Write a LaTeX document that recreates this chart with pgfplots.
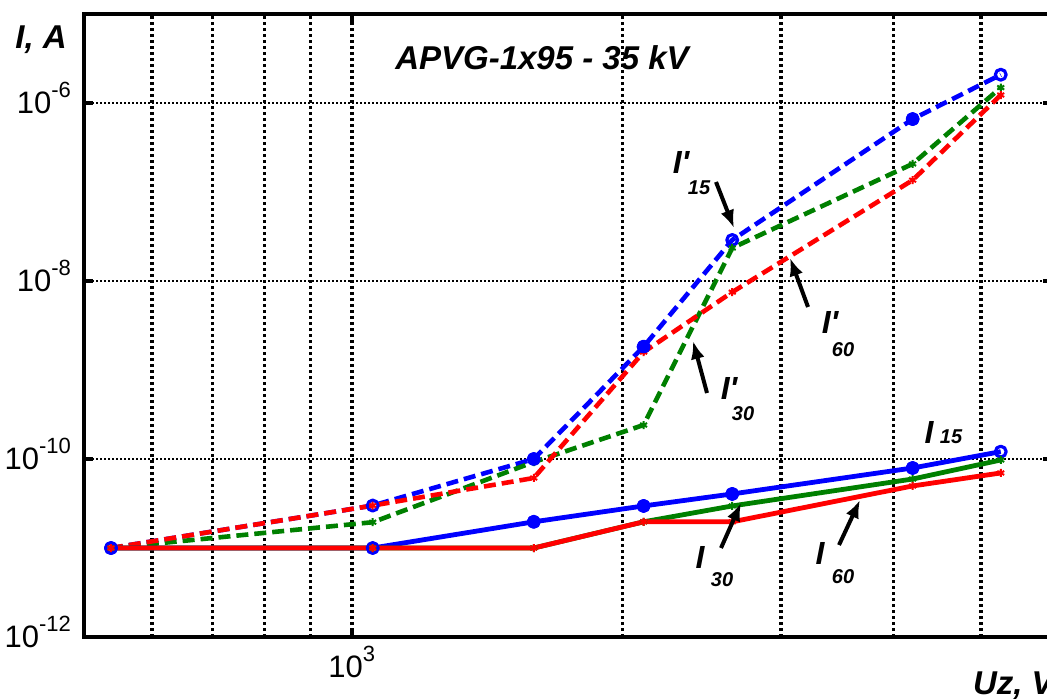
\documentclass[border=0pt]{standalone}
\usepackage{pgfplots}
\pgfplotsset{compat=1.18}
\usepackage{pgfplotstable}
\usepackage{fontspec}
\setmainfont{Liberation Sans}
\usetikzlibrary{arrows.meta}
\definecolor{mblue}{RGB}{0,0,255}
\definecolor{mgreen}{RGB}{0,128,0}
\definecolor{mred}{RGB}{255,0,0}

\pgfplotstableread{
x y
540 1e-11
1055 1e-11
1593 1.97e-11
2110 2.97e-11
2647 4.05e-11
4200 7.93e-11
5262 1.21e-10
}\Ia
\pgfplotstableread{
x y
540 1e-11
1055 1e-11
1593 1e-11
2110 1.97e-11
2647 2.97e-11
4200 5.96e-11
5262 9.75e-11
}\Ib
\pgfplotstableread{
x y
540 1e-11
1055 1e-11
1593 1e-11
2110 1.97e-11
2647 1.97e-11
4200 4.98e-11
5262 6.97e-11
}\Ic
\pgfplotstableread{
x y
540 1e-11
1055 3e-11
1593 1e-10
2110 1.83e-9
2647 2.89e-8
4200 6.6e-7
5262 2.08e-6
}\Pa
\pgfplotstableread{
x y
540 1e-11
1055 1.95e-11
1593 9.25e-11
2110 2.41e-10
2647 2.35e-8
4200 2.07e-7
5262 1.49e-6
}\Pb
\pgfplotstableread{
x y
540 1e-11
1055 3e-11
1593 6.12e-11
2110 1.59e-9
2647 7.5e-9
4200 1.36e-7
5262 1.23e-6
}\Pc

\newcommand{\tl}[1]{{\fontsize{15.5}{16}\selectfont 10\smash{\raisebox{8pt}{\fontsize{11}{11}\selectfont #1}}}}
\newcommand{\bi}{\bfseries\itshape}
\newcommand{\pr}{\textquotesingle}

\begin{document}
\begin{tikzpicture}
\path[use as bounding box] (0pt,0pt) rectangle (523.5pt,-349.5pt);
\begin{axis}[
  at={(42pt,-318.5pt)}, anchor=south west,
  width=484pt, height=311.5pt, scale only axis,
  xmode=log, ymode=log,
  xmin=504, xmax=6000, ymin=1e-12, ymax=1e-5,
  xtick={1000}, xticklabels={\tl{3}},
  minor xtick={600,700,800,900,2000,3000,4000,5000},
  ytick={1e-12,1e-10,1e-8,1e-6},
  yticklabels={\tl{-12},\tl{-10},\tl{-8},\tl{-6}},
  minor ytick={1e-11},
  xmajorgrids, xminorgrids, ymajorgrids, yminorgrids=false,
  major x grid style={black, line width=1.7pt, dash pattern=on 1.6pt off 1.4pt},
  minor x grid style={black, line width=1.7pt, dash pattern=on 1.6pt off 1.4pt},
  major y grid style={black, line width=0.8pt, dash pattern=on 0.8pt off 1.2pt},
  axis line style={line width=2.2pt},
  tick align=inside, major tick length=4.5pt, minor tick length=0pt,
  every tick/.style={black, line width=2.2pt},
  yticklabel style={xshift=-3pt},
  xticklabel style={yshift=-6pt},
  clip=true,
]
\addplot[mblue, line width=2.3pt, dash pattern=on 6pt off 3pt, line join=round,
  mark=o, mark size=2.7pt, mark options={solid, line width=1.6pt, fill=white}] table {\Pa};
\addplot[mgreen, line width=2.3pt, dash pattern=on 6pt off 3pt, line join=round,
  mark=asterisk, mark size=2pt, mark options={solid, line width=1pt}] table {\Pb};
\addplot[mred, line width=2.3pt, dash pattern=on 6pt off 3pt, line join=round,
  mark=asterisk, mark size=2pt, mark options={solid, line width=1pt}] table {\Pc};
\addplot[mblue, only marks, mark=*, mark size=3.1pt] coordinates {(1593,1e-10) (2110,1.83e-9) (4200,6.6e-7)};
\addplot[mblue, line width=2.4pt, line join=round,
  mark=o, mark size=2.7pt, mark options={line width=1.6pt, fill=white}] table {\Ia};
\addplot[mblue, only marks, mark=*, mark size=3.1pt] coordinates {(1593,1.97e-11) (2110,2.97e-11) (2647,4.05e-11) (4200,7.93e-11)};
\addplot[mgreen, line width=2.4pt, line join=round,
  mark=asterisk, mark size=2pt, mark options={line width=1pt}] table {\Ib};
\addplot[mred, line width=2.4pt, line join=round,
  mark=asterisk, mark size=2pt, mark options={line width=1pt}] table {\Ic};
\end{axis}
\begin{scope}[x=0.5pt, y=-0.5pt]
\node[font=\fontsize{16.5}{18}\selectfont\bi] at (542,58) {APVG-1x95 - 35 kV};
\node[font=\fontsize{16.5}{18}\selectfont\bi] at (41,40) {I, A};
\node[font=\fontsize{16.5}{18}\selectfont\bi, anchor=west] at (966,686) {Uz, V};
% annotations
\tikzset{lab/.style={font=\fontsize{16}{18}\selectfont\bi, inner sep=0pt},
         sub/.style={font=\fontsize{10}{12}\selectfont\bi, inner sep=0pt},
         arr/.style={line width=2pt, -{Latex[length=9pt,width=7pt]}}}
\node[lab] at (681,162) {I\pr};
\node[sub] at (699,188) {15};
\draw[arr] (716,182) -- (734,228);
\node[lab] at (830,322) {I\pr};
\node[sub] at (843,350) {60};
\draw[arr] (808,307) -- (790,258);
\node[lab] at (729,388) {I\pr};
\node[sub] at (743,414) {30};
\draw[arr] (707,393) -- (693,341);
\node[lab] at (929,432) {I};
\node[sub] at (951,437) {15};
\node[lab] at (700,557) {I};
\node[sub] at (722,580) {30};
\draw[arr] (721,548) -- (741,503);
\node[lab] at (820,553) {I};
\node[sub] at (843,577) {60};
\draw[arr] (839,545) -- (860,500);
\end{scope}
\end{tikzpicture}
\end{document}
